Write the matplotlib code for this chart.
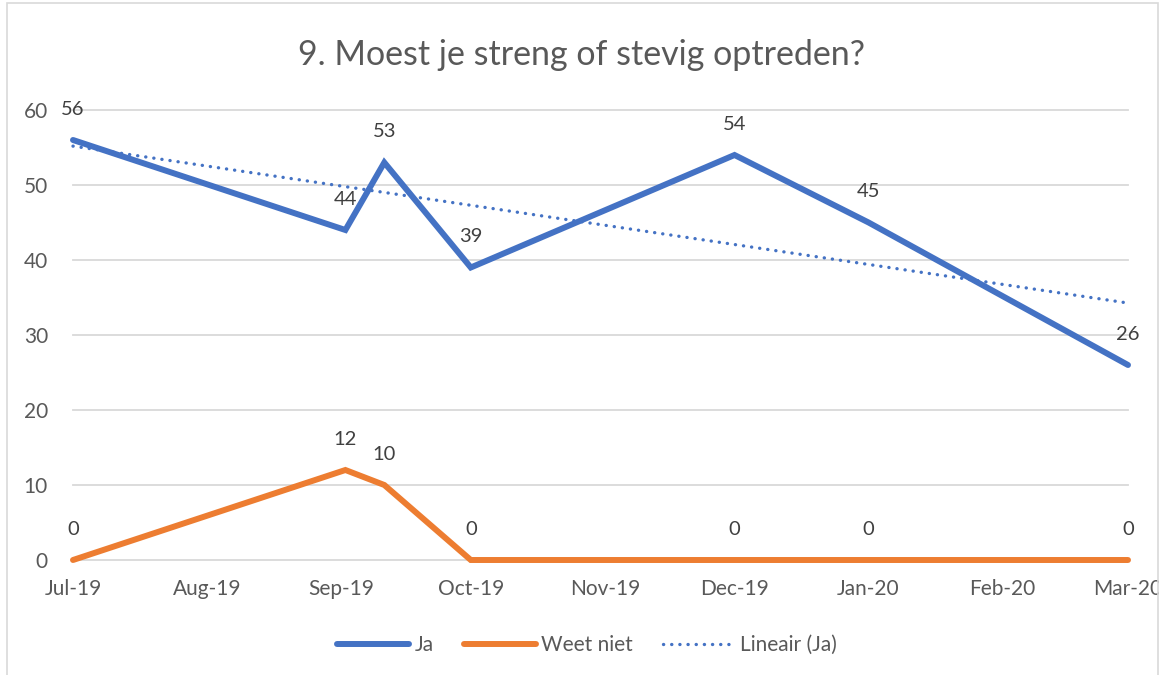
import matplotlib
matplotlib.use("Agg")
import matplotlib.pyplot as plt
import matplotlib.dates as mdates
from matplotlib.patches import Rectangle
from datetime import date
import numpy as np

plt.rcParams['font.family'] = ['Lato', 'DejaVu Sans']

title = "9. Moest je streng of stevig optreden?"
dates = [date(2019, 7, 1), date(2019, 9, 2), date(2019, 9, 11), date(2019, 10, 1),
         date(2019, 12, 1), date(2020, 1, 1), date(2020, 3, 1)]
ja = [56, 44, 53, 39, 54, 45, 26]
weet_niet = [0, 12, 10, 0, 0, 0, 0]
tick_dates = [date(2019, 7, 1), date(2019, 8, 1), date(2019, 9, 1), date(2019, 10, 1),
              date(2019, 11, 1), date(2019, 12, 1), date(2020, 1, 1), date(2020, 2, 1),
              date(2020, 3, 1)]
tick_labels = ["Jul-19", "Aug-19", "Sep-19", "Oct-19", "Nov-19", "Dec-19", "Jan-20", "Feb-20", "Mar-20"]
y_ticks = [0, 10, 20, 30, 40, 50, 60]

BLUE = "#4472C4"
ORANGE = "#ED7D31"
TXT = "#595959"
GRID = "#D9D9D9"

W, H = 1163, 675
fig = plt.figure(figsize=(W / 100, H / 100), dpi=100)
ax = fig.add_axes([73 / W, 1 - 560 / H, (1128 - 73) / W, (560 - 110) / H])

xn = mdates.date2num(dates)
ax.plot(xn, ja, color=BLUE, lw=4.3, solid_capstyle='round', solid_joinstyle='miter', clip_on=False, zorder=3, label="Ja")
ax.plot(xn, weet_niet, color=ORANGE, lw=4.3, solid_capstyle='round', solid_joinstyle='miter', clip_on=False, zorder=3, label="Weet niet")

coef = np.polyfit(xn, ja, 1)
tx = np.array([xn[0], xn[-1]])
ax.plot(tx, np.polyval(coef, tx), color=BLUE, lw=2.4, linestyle=(0, (0.05, 2.4)), dash_capstyle='round',
        clip_on=False, zorder=4, label="Lineair (Ja)")

for x, y in zip(xn, ja):
    ax.annotate(str(y), (x, y), xytext=(0, 22), textcoords='offset points', ha='center', va='center',
                fontsize=14.5, color="#404040", zorder=5)
for x, y in zip(xn, weet_niet):
    ax.annotate(str(y), (x, y), xytext=(0, 22), textcoords='offset points', ha='center', va='center',
                fontsize=14.5, color="#404040", zorder=5)

ax.set_xlim(mdates.date2num(tick_dates[0]), mdates.date2num(tick_dates[-1]))
ax.set_ylim(0, 60)
ax.set_xticks(mdates.date2num(tick_dates))
ax.set_xticklabels(tick_labels)
ax.set_yticks(y_ticks)
ax.tick_params(axis='both', length=0, labelsize=15, labelcolor=TXT)
ax.tick_params(axis='x', pad=14)
ax.tick_params(axis='y', pad=18)
for s in ax.spines.values():
    s.set_visible(False)
ax.yaxis.grid(True, color=GRID, lw=1.3)
ax.set_axisbelow(True)
for gl in ax.get_ygridlines():
    gl.set_clip_on(False)

fig.text(0.5, 1 - 55 / H, title, ha='center', va='center', fontsize=24.5, color=TXT)

leg = fig.legend(loc='center', bbox_to_anchor=(587 / W, 1 - 645 / H), ncol=3, frameon=False,
                 fontsize=15, handlelength=3.45, columnspacing=1.45, handletextpad=0.25)
for t in leg.get_texts():
    t.set_color(TXT)

# chart area border and right clip
fig.patches.append(Rectangle((1159 / W, 0), 10 / W, 1, transform=fig.transFigure,
                             facecolor='white', edgecolor='none', zorder=10))
fig.patches.append(Rectangle((7 / W, -0.05), (1158 - 7) / W, 1 - 3 / H + 0.05, transform=fig.transFigure,
                             facecolor='none', edgecolor=GRID, lw=1.2, zorder=11))

fig.savefig("out.png", dpi=100)
